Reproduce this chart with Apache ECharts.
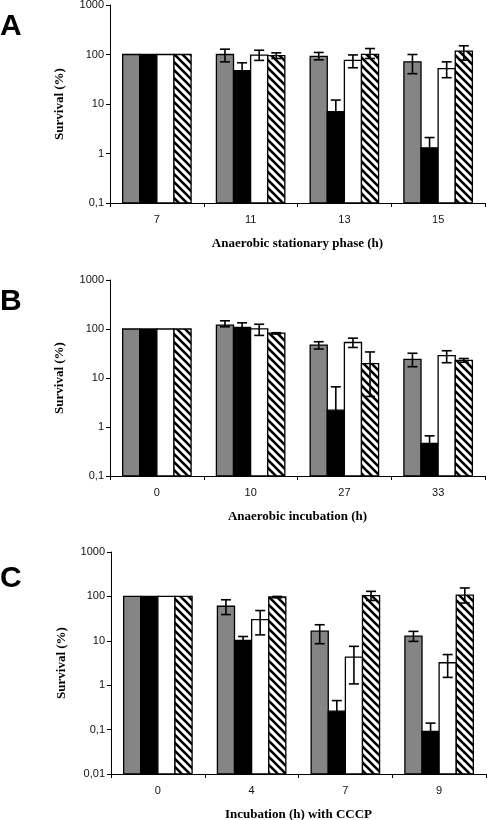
<!DOCTYPE html>
<html><head><meta charset="utf-8">
<script src="https://cdn.jsdelivr.net/npm/echarts@6/dist/echarts.min.js"></script>
<style>html,body{margin:0;padding:0;background:#fff}#c{width:487px;height:820px}</style>
</head><body><div id="c"></div>
<script>
// ---- Panel A ----
const catsA = ['7', '11', '13', '15'];
const grayA = [100, 100, 92, 71];
const blackA = [100, 47, 7.0, 1.3];
const whiteA = [100, 97, 76, 52];
const hatchA = [100, 95, 101, 117];
const grayErrA = [null, [71, 128], [78, 110], [41, 100]];
const blackErrA = [null, [30, 68], [4, 12], [0.8, 2.1]];
const whiteErrA = [null, [76, 122], [54, 98], [34, 71]];
const hatchErrA = [null, [83, 108], [83, 132], [77, 150]];
// ---- Panel B ----
const catsB = ['0', '10', '27', '33'];
const grayB = [100, 120, 47, 24];
const blackB = [100, 108, 2.2, 0.46];
const whiteB = [100, 101, 53, 28.5];
const hatchB = [100, 82, 19.6, 23];
const grayErrB = [null, [111, 147], [39, 55], [17, 32]];
const blackErrB = [null, [87, 134], [0.5, 6.6], [0.3, 0.66]];
const whiteErrB = [null, [74, 125], [42, 65], [20.5, 36]];
const hatchErrB = [null, [79, 84], [4.2, 34], [21, 25]];
// ---- Panel C ----
const catsC = ['0', '4', '7', '9'];
const grayC = [100, 60, 16.5, 12.8];
const blackC = [100, 10.2, 0.26, 0.091];
const whiteC = [100, 30, 4.3, 3.2];
const hatchC = [100, 97, 104, 107];
const grayErrC = [null, [39, 84], [8.6, 23], [9.7, 16.3]];
const blackErrC = [null, [8, 12.5], [0.1, 0.45], [0.05, 0.14]];
const whiteErrC = [null, [13.6, 48], [1.07, 7.5], [1.5, 4.9]];
const hatchErrC = [null, [93, 100], [81, 130], [71, 155]];

const yTicksAB = { min: 0.1, max: 1000 };
const yTicksC = { min: 0.01, max: 1000 };

// hatch pattern
const pc = document.createElement('canvas');
pc.width = 8; pc.height = 8;
const g = pc.getContext('2d');
g.fillStyle = '#fff'; g.fillRect(0, 0, 8, 8);
g.strokeStyle = '#000'; g.lineWidth = 2.6;
g.beginPath();
g.moveTo(-2, -2); g.lineTo(10, 10);
g.moveTo(-6, 2); g.lineTo(2, 10);
g.moveTo(6, -2); g.lineTo(14, 6);
g.stroke();
const hatchFill = { image: pc, repeat: 'repeat' };

const fills = ['#858585', '#000000', '#ffffff', hatchFill];
const GROUP = 0.73;

function barSeries(gi, k, vals, nCats) {
  return {
    type: 'custom', xAxisIndex: gi, yAxisIndex: gi, z: 2,
    data: vals.map((v, i) => [i, v]),
    encode: { x: 0, y: 1 },
    renderItem: function (params, api) {
      const ci = api.value(0), v = api.value(1);
      const cs = params.coordSys;
      const bandW = cs.width / nCats;
      const p = api.coord([ci, v]);
      const gw = bandW * GROUP, bw = gw / 4;
      const x = p[0] - gw / 2 + k * bw;
      const bottom = cs.y + cs.height;
      return { type: 'rect', shape: { x: x, y: p[1], width: bw, height: bottom - p[1] },
        style: { fill: fills[k], stroke: '#000', lineWidth: 1.3 } };
    }
  };
}
function errSeries(gi, k, errs, nCats) {
  const data = [];
  errs.forEach((e, i) => { if (e) data.push([i, e[0], e[1]]); });
  return {
    type: 'custom', xAxisIndex: gi, yAxisIndex: gi, z: 5,
    data: data, encode: { x: 0, y: [1, 2] },
    renderItem: function (params, api) {
      const ci = api.value(0);
      const cs = params.coordSys;
      const bandW = cs.width / nCats;
      const lo = api.coord([ci, api.value(1)]);
      const hi = api.coord([ci, api.value(2)]);
      const gw = bandW * GROUP, bw = gw / 4;
      const cx = lo[0] - gw / 2 + (k + 0.5) * bw;
      const cap = 5;
      const st = { stroke: '#000', lineWidth: 1.6 };
      return { type: 'group', children: [
        { type: 'line', shape: { x1: cx, y1: lo[1], x2: cx, y2: hi[1] }, style: st },
        { type: 'line', shape: { x1: cx - cap, y1: lo[1], x2: cx + cap, y2: lo[1] }, style: st },
        { type: 'line', shape: { x1: cx - cap, y1: hi[1], x2: cx + cap, y2: hi[1] }, style: st }
      ] };
    }
  };
}

const panels = [
  { cats: catsA, vals: [grayA, blackA, whiteA, hatchA], errs: [grayErrA, blackErrA, whiteErrA, hatchErrA],
    grid: { left: 110, right: 2, top: 5, height: 198, outerBoundsMode: 'none', containLabel: false }, y: yTicksAB, name: 'Anaerobic stationary phase (h)', yGap: 44 },
  { cats: catsB, vals: [grayB, blackB, whiteB, hatchB], errs: [grayErrB, blackErrB, whiteErrB, hatchErrB],
    grid: { left: 110, right: 2, top: 280, height: 196, outerBoundsMode: 'none', containLabel: false }, y: yTicksAB, name: 'Anaerobic incubation (h)', yGap: 44 },
  { cats: catsC, vals: [grayC, blackC, whiteC, hatchC], errs: [grayErrC, blackErrC, whiteErrC, hatchErrC],
    grid: { left: 111, right: 1, top: 552, height: 222, outerBoundsMode: 'none', containLabel: false }, y: yTicksC, name: 'Incubation (h) with CCCP', yGap: 43 }
];

const option = { animation: false, grid: [], xAxis: [], yAxis: [], series: [], graphic: [] };
const axisLine = { show: true, lineStyle: { color: '#000', width: 1 } };
panels.forEach((p, gi) => {
  option.grid.push(p.grid);
  option.xAxis.push({
    type: 'category', gridIndex: gi, data: p.cats, boundaryGap: true,
    axisLine: axisLine, axisTick: { show: true, length: 4, lineStyle: { color: '#000' } },
    axisLabel: { color: '#111', fontSize: 11, fontFamily: 'Liberation Sans', margin: 11 },
    name: p.name, nameLocation: 'middle', nameGap: 34,
    nameTextStyle: { fontFamily: 'Liberation Serif', fontWeight: 'bold', fontSize: 13, color: '#000' }
  });
  option.yAxis.push({
    type: 'log', logBase: 10, gridIndex: gi, min: p.y.min, max: p.y.max, splitNumber: 5,
    axisLine: axisLine, axisTick: { show: true, length: 4, lineStyle: { color: '#000' } },
    splitLine: { show: false }, minorTick: { show: false },
    axisLabel: { color: '#111', fontSize: 11, fontFamily: 'Liberation Sans', margin: 6,
      formatter: v => String(+v.toPrecision(6)).replace('.', ',') },
    name: 'Survival (%)', nameLocation: 'middle', nameGap: p.yGap,
    nameTextStyle: { fontFamily: 'Liberation Serif', fontWeight: 'bold', fontSize: 13, color: '#000' }
  });
  for (let k = 0; k < 4; k++) option.series.push(barSeries(gi, k, p.vals[k], p.cats.length));
  for (let k = 0; k < 4; k++) option.series.push(errSeries(gi, k, p.errs[k], p.cats.length));
});
[['A', 12], ['B', 287], ['C', 564]].forEach(([t, y]) => {
  option.graphic.push({ type: 'text', left: 0, top: y,
    style: { text: t, font: 'bold 30px "Liberation Sans"', fill: '#000' } });
});
const chart = echarts.init(document.getElementById('c'), null, { renderer: 'canvas' });
chart.setOption(option);
</script></body></html>
